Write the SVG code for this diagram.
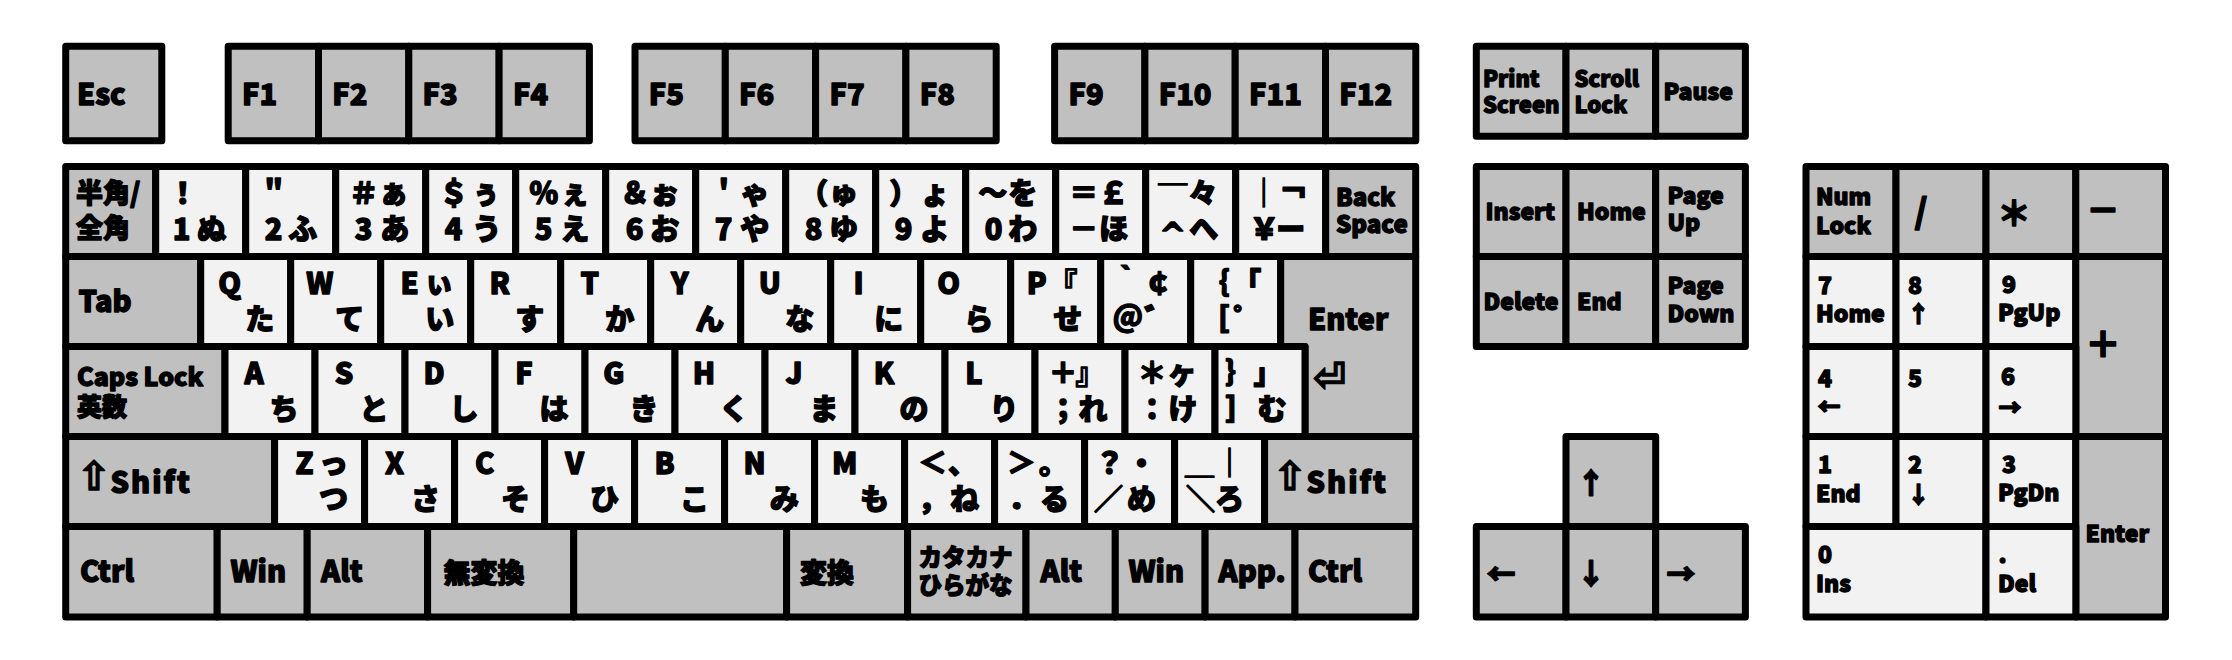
<svg xmlns="http://www.w3.org/2000/svg" width="2232" height="660" viewBox="0 0 2232 660">
<style>
.g{fill:#c0c0c0;stroke:#000;stroke-width:7;stroke-linejoin:round}
.w{fill:#f2f2f2;stroke:#000;stroke-width:7;stroke-linejoin:round}
text{font-family:"Noto Sans CJK JP","Noto Sans",sans-serif;font-weight:900;fill:#000;stroke:#000;stroke-width:1.3px;stroke-linejoin:round}
.l{font-size:29px}
.k{font-size:27px}
.m{font-size:24px}
.s{font-size:23px}
.t{font-size:22px}
.x{font-size:34px}
.c{text-anchor:middle}
.sym{font-family:"DejaVu Sans",sans-serif;font-weight:700}
.sh{letter-spacing:2px}
</style>
<rect width="2232" height="660" fill="#fff"/>
<g id="function-row">
<g id="k-esc"><rect class="g" x="65.7" y="46.3" width="96.1" height="94.4"/><text class="l" x="77" y="105">Esc</text></g>
<g id="k-f1"><rect class="g" x="228.2" y="46.3" width="90.3" height="94.4"/><text class="l" x="242" y="105">F1</text></g>
<g id="k-f2"><rect class="g" x="318.5" y="46.3" width="90.3" height="94.4"/><text class="l" x="332.3" y="105">F2</text></g>
<g id="k-f3"><rect class="g" x="408.8" y="46.3" width="90.3" height="94.4"/><text class="l" x="422.6" y="105">F3</text></g>
<g id="k-f4"><rect class="g" x="499.1" y="46.3" width="90.3" height="94.4"/><text class="l" x="512.9" y="105">F4</text></g>
<g id="k-f5"><rect class="g" x="635" y="46.3" width="90.3" height="94.4"/><text class="l" x="648.8" y="105">F5</text></g>
<g id="k-f6"><rect class="g" x="725.3" y="46.3" width="90.3" height="94.4"/><text class="l" x="739.1" y="105">F6</text></g>
<g id="k-f7"><rect class="g" x="815.6" y="46.3" width="90.3" height="94.4"/><text class="l" x="829.4" y="105">F7</text></g>
<g id="k-f8"><rect class="g" x="905.9" y="46.3" width="90.3" height="94.4"/><text class="l" x="919.7" y="105">F8</text></g>
<g id="k-f9"><rect class="g" x="1054.6" y="46.3" width="90.3" height="94.4"/><text class="l" x="1068.4" y="105">F9</text></g>
<g id="k-f10"><rect class="g" x="1144.9" y="46.3" width="90.3" height="94.4"/><text class="l" x="1158.7" y="105">F10</text></g>
<g id="k-f11"><rect class="g" x="1235.2" y="46.3" width="90.3" height="94.4"/><text class="l" x="1249" y="105">F11</text></g>
<g id="k-f12"><rect class="g" x="1325.5" y="46.3" width="90.3" height="94.4"/><text class="l" x="1339.3" y="105">F12</text></g>
</g>
<g id="row2">
<g id="k-hankaku"><rect class="g" x="65.7" y="166.5" width="90" height="90"/><text class="k"><tspan x="76" y="203">半角/</tspan><tspan x="76" y="237.5">全角</tspan></text></g>
<g id="k-1"><rect class="w" x="155.7" y="166.5" width="90" height="90"/><text class="l c"><tspan x="182.7" y="203.5">！</tspan><tspan x="181.7" y="239.5">1</tspan><tspan x="211.7" y="239.5">ぬ</tspan></text></g>
<g id="k-2"><rect class="w" x="245.7" y="166.5" width="90" height="90"/><text class="l c"><tspan x="273.7" y="203.5">＂</tspan><tspan x="273.7" y="239.5">2</tspan><tspan x="302.7" y="239.5">ふ</tspan></text></g>
<g id="k-3"><rect class="w" x="335.7" y="166.5" width="90" height="90"/><text class="l c"><tspan x="363.7" y="203.5">＃</tspan><tspan x="393.7" y="203.5">ぁ</tspan><tspan x="363.7" y="239.5">3</tspan><tspan x="394.7" y="239.5">あ</tspan></text></g>
<g id="k-4"><rect class="w" x="425.7" y="166.5" width="90" height="90"/><text class="l c"><tspan x="453.7" y="203.5">＄</tspan><tspan x="485.7" y="203.5">ぅ</tspan><tspan x="453.7" y="239.5">4</tspan><tspan x="486.7" y="239.5">う</tspan></text></g>
<g id="k-5"><rect class="w" x="515.7" y="166.5" width="90" height="90"/><text class="l c"><tspan x="543.7" y="203.5">％</tspan><tspan x="574.7" y="203.5">ぇ</tspan><tspan x="543.7" y="239.5">5</tspan><tspan x="574.7" y="239.5">え</tspan></text></g>
<g id="k-6"><rect class="w" x="605.7" y="166.5" width="90" height="90"/><text class="l c"><tspan x="634.7" y="203.5">＆</tspan><tspan x="664.7" y="203.5">ぉ</tspan><tspan x="634.7" y="239.5">6</tspan><tspan x="664.7" y="239.5">お</tspan></text></g>
<g id="k-7"><rect class="w" x="695.7" y="166.5" width="90" height="90"/><text class="l c"><tspan x="723.7" y="203.5">＇</tspan><tspan x="754.7" y="203.5">ゃ</tspan><tspan x="723.7" y="239.5">7</tspan><tspan x="754.7" y="239.5">や</tspan></text></g>
<g id="k-8"><rect class="w" x="785.7" y="166.5" width="90" height="90"/><text class="l c"><tspan x="813.7" y="203.5">（</tspan><tspan x="843.7" y="203.5">ゅ</tspan><tspan x="813.7" y="239.5">8</tspan><tspan x="843.7" y="239.5">ゆ</tspan></text></g>
<g id="k-9"><rect class="w" x="875.7" y="166.5" width="90" height="90"/><text class="l c"><tspan x="903.7" y="203.5">）</tspan><tspan x="934.7" y="203.5">ょ</tspan><tspan x="903.7" y="239.5">9</tspan><tspan x="934.7" y="239.5">よ</tspan></text></g>
<g id="k-0"><rect class="w" x="965.7" y="166.5" width="90" height="90"/><text class="l c"><tspan x="992.7" y="203.5">〜</tspan><tspan x="1022.7" y="203.5">を</tspan><tspan x="993.7" y="239.5">0</tspan><tspan x="1022.7" y="239.5">わ</tspan></text></g>
<g id="k-minus"><rect class="w" x="1055.7" y="166.5" width="90" height="90"/><text class="l c"><tspan x="1083.7" y="203.5">＝</tspan><tspan x="1113.7" y="203.5">￡</tspan><tspan x="1083.7" y="239.5">－</tspan><tspan x="1113.7" y="239.5">ほ</tspan></text></g>
<g id="k-caret"><rect class="w" x="1145.7" y="166.5" width="90" height="90"/><text class="l c"><tspan x="1172.7" y="209.5">￣</tspan><tspan x="1202.7" y="203.5">々</tspan><tspan class="sym" font-size="32" x="1172.7" y="246">^</tspan><tspan x="1203.7" y="239.5">へ</tspan></text></g>
<g id="k-yen"><rect class="w" x="1235.7" y="166.5" width="90" height="90"/><text class="l c"><tspan x="1263.7" y="203.5">｜</tspan><tspan x="1293.7" y="203.5">￢</tspan><tspan x="1264.2" y="239.5">￥</tspan><tspan x="1290.7" y="239.5">ー</tspan></text></g>
<g id="k-bs"><rect class="g" x="1325.7" y="166.5" width="90" height="90"/><text class="m"><tspan x="1336" y="206">Back</tspan><tspan x="1336" y="233">Space</tspan></text></g>
</g>
<g id="row3">
<g id="k-tab"><rect class="g" x="65.7" y="256.5" width="135" height="90"/><text class="l" x="78.5" y="312">Tab</text></g>
<g id="k-q"><rect class="w" x="200.7" y="256.5" width="90" height="90"/><text class="l c"><tspan x="229.7" y="293.5">Q</tspan><tspan x="259.7" y="330">た</tspan></text></g>
<g id="k-w"><rect class="w" x="290.7" y="256.5" width="90" height="90"/><text class="l c"><tspan x="319.7" y="293.5">W</tspan><tspan x="349.7" y="330">て</tspan></text></g>
<g id="k-e"><rect class="w" x="380.7" y="256.5" width="90" height="90"/><text class="l c"><tspan x="409.7" y="293.5">E</tspan><tspan x="438.7" y="293.5">ぃ</tspan><tspan x="439.7" y="330">い</tspan></text></g>
<g id="k-r"><rect class="w" x="470.7" y="256.5" width="90" height="90"/><text class="l c"><tspan x="499.7" y="293.5">R</tspan><tspan x="529.7" y="330">す</tspan></text></g>
<g id="k-t"><rect class="w" x="560.7" y="256.5" width="90" height="90"/><text class="l c"><tspan x="589.7" y="293.5">T</tspan><tspan x="619.7" y="330">か</tspan></text></g>
<g id="k-y"><rect class="w" x="650.7" y="256.5" width="90" height="90"/><text class="l c"><tspan x="679.7" y="293.5">Y</tspan><tspan x="709.7" y="330">ん</tspan></text></g>
<g id="k-u"><rect class="w" x="740.7" y="256.5" width="90" height="90"/><text class="l c"><tspan x="769.7" y="293.5">U</tspan><tspan x="799.7" y="330">な</tspan></text></g>
<g id="k-i"><rect class="w" x="830.7" y="256.5" width="90" height="90"/><text class="l c"><tspan x="858.7" y="293.5">I</tspan><tspan x="888.7" y="330">に</tspan></text></g>
<g id="k-o"><rect class="w" x="920.7" y="256.5" width="90" height="90"/><text class="l c"><tspan x="948.7" y="293.5">O</tspan><tspan x="978.7" y="330">ら</tspan></text></g>
<g id="k-p"><rect class="w" x="1010.7" y="256.5" width="90" height="90"/><text class="l c"><tspan x="1036.7" y="293.5">P</tspan><tspan x="1062.7" y="293.5">『</tspan><tspan x="1067.7" y="330">せ</tspan></text></g>
<g id="k-at"><rect class="w" x="1100.7" y="256.5" width="90" height="90"/><text class="l c"><tspan x="1126.7" y="293.5">｀</tspan><tspan x="1158.7" y="293.5">￠</tspan><tspan x="1127.7" y="330">＠</tspan><tspan x="1158.7" y="330">゛</tspan></text></g>
<g id="k-lbracket"><rect class="w" x="1190.7" y="256.5" width="90" height="90"/><text class="l c"><tspan x="1214.7" y="293.5">｛</tspan><tspan x="1246.7" y="293.5">「</tspan><tspan x="1214.7" y="330">［</tspan><tspan x="1247.7" y="330">゜</tspan></text></g>
<g id="k-enter"><polygon class="g" points="1280.7,256.5 1415.7,256.5 1415.7,436.5 1305,436.5 1305,346.5 1280.7,346.5"/><text class="l"><tspan x="1308" y="330">Enter</tspan><tspan class="sym" x="1313" y="391" font-size="40">⏎</tspan></text></g>
</g>
<g id="row4">
<g id="k-caps"><rect class="g" x="65.7" y="346.5" width="159.3" height="90"/><text font-size="25"><tspan x="77" y="386">Caps Lock</tspan><tspan x="77" y="415.5">英数</tspan></text></g>
<g id="k-a"><rect class="w" x="225" y="346.5" width="90" height="90"/><text class="l c"><tspan x="254" y="383.5">A</tspan><tspan x="284" y="420">ち</tspan></text></g>
<g id="k-s"><rect class="w" x="315" y="346.5" width="90" height="90"/><text class="l c"><tspan x="344" y="383.5">S</tspan><tspan x="374" y="420">と</tspan></text></g>
<g id="k-d"><rect class="w" x="405" y="346.5" width="90" height="90"/><text class="l c"><tspan x="434" y="383.5">D</tspan><tspan x="464" y="420">し</tspan></text></g>
<g id="k-f"><rect class="w" x="495" y="346.5" width="90" height="90"/><text class="l c"><tspan x="524" y="383.5">F</tspan><tspan x="554" y="420">は</tspan></text></g>
<g id="k-g"><rect class="w" x="585" y="346.5" width="90" height="90"/><text class="l c"><tspan x="614" y="383.5">G</tspan><tspan x="644" y="420">き</tspan></text></g>
<g id="k-h"><rect class="w" x="675" y="346.5" width="90" height="90"/><text class="l c"><tspan x="704" y="383.5">H</tspan><tspan x="734" y="420">く</tspan></text></g>
<g id="k-j"><rect class="w" x="765" y="346.5" width="90" height="90"/><text class="l c"><tspan x="794" y="383.5">J</tspan><tspan x="824" y="420">ま</tspan></text></g>
<g id="k-k"><rect class="w" x="855" y="346.5" width="90" height="90"/><text class="l c"><tspan x="884" y="383.5">K</tspan><tspan x="914" y="420">の</tspan></text></g>
<g id="k-l"><rect class="w" x="945" y="346.5" width="90" height="90"/><text class="l c"><tspan x="974" y="383.5">L</tspan><tspan x="1004" y="420">り</tspan></text></g>
<g id="k-semicolon"><rect class="w" x="1035" y="346.5" width="90" height="90"/><text class="l c"><tspan x="1063" y="383.5">＋</tspan><tspan x="1090" y="383.5">』</tspan><tspan x="1063" y="420">；</tspan><tspan x="1093" y="420">れ</tspan></text></g>
<g id="k-colon"><rect class="w" x="1125" y="346.5" width="90" height="90"/><text class="l c"><tspan x="1152" y="383.5">＊</tspan><tspan x="1182" y="383.5">ヶ</tspan><tspan x="1152" y="420">：</tspan><tspan x="1183" y="420">け</tspan></text></g>
<g id="k-rbracket"><rect class="w" x="1215" y="346.5" width="90" height="90"/><text class="l c"><tspan x="1240" y="383.5">｝</tspan><tspan x="1268" y="383.5">」</tspan><tspan x="1240" y="420">］</tspan><tspan x="1272" y="420">む</tspan></text></g>
</g>
<g id="row5">
<g id="k-lshift"><rect class="g" x="65.7" y="436.5" width="208.9" height="90"/><text class="l"><tspan class="sym" font-size="40" x="77" y="490">⇧</tspan><tspan class="sh" y="492.5">Shift</tspan></text></g>
<g id="k-z"><rect class="w" x="274.6" y="436.5" width="90" height="90"/><text class="l c"><tspan x="304.6" y="473.5">Z</tspan><tspan x="333.6" y="473.5">っ</tspan><tspan x="333.6" y="510">つ</tspan></text></g>
<g id="k-x"><rect class="w" x="364.6" y="436.5" width="90" height="90"/><text class="l c"><tspan x="394.6" y="473.5">X</tspan><tspan x="425.6" y="510">さ</tspan></text></g>
<g id="k-c"><rect class="w" x="454.6" y="436.5" width="90" height="90"/><text class="l c"><tspan x="484.6" y="473.5">C</tspan><tspan x="515.6" y="510">そ</tspan></text></g>
<g id="k-v"><rect class="w" x="544.6" y="436.5" width="90" height="90"/><text class="l c"><tspan x="574.6" y="473.5">V</tspan><tspan x="604.6" y="510">ひ</tspan></text></g>
<g id="k-b"><rect class="w" x="634.6" y="436.5" width="90" height="90"/><text class="l c"><tspan x="664.6" y="473.5">B</tspan><tspan x="694.6" y="510">こ</tspan></text></g>
<g id="k-n"><rect class="w" x="724.6" y="436.5" width="90" height="90"/><text class="l c"><tspan x="754.6" y="473.5">N</tspan><tspan x="784.6" y="510">み</tspan></text></g>
<g id="k-m"><rect class="w" x="814.6" y="436.5" width="90" height="90"/><text class="l c"><tspan x="844.6" y="473.5">M</tspan><tspan x="874.6" y="510">も</tspan></text></g>
<g id="k-comma"><rect class="w" x="904.6" y="436.5" width="90" height="90"/><text class="l c"><tspan x="932.6" y="473.5">＜</tspan><tspan x="962.6" y="473.5">、</tspan><tspan x="932.6" y="510">，</tspan><tspan x="964.6" y="510">ね</tspan></text></g>
<g id="k-period"><rect class="w" x="994.6" y="436.5" width="90" height="90"/><text class="l c"><tspan x="1021.6" y="473.5">＞</tspan><tspan x="1053.6" y="473.5">。</tspan><tspan x="1022.6" y="510">．</tspan><tspan x="1054.6" y="510">る</tspan></text></g>
<g id="k-slash"><rect class="w" x="1084.6" y="436.5" width="90" height="90"/><text class="l c"><tspan x="1109.6" y="473.5">？</tspan><tspan x="1141.6" y="473.5">・</tspan><tspan x="1108.6" y="510">／</tspan><tspan x="1141.6" y="510">め</tspan></text></g>
<g id="k-backslash"><rect class="w" x="1174.6" y="436.5" width="90" height="90"/><text class="l c"><tspan x="1199.6" y="473.5">＿</tspan><tspan x="1229.6" y="473.5">｜</tspan><tspan x="1200.6" y="510">＼</tspan><tspan x="1229.6" y="510">ろ</tspan></text></g>
<g id="k-rshift"><rect class="g" x="1264.6" y="436.5" width="151.1" height="90"/><text class="l"><tspan class="sym" font-size="40" x="1273" y="490">⇧</tspan><tspan class="sh" y="492.5">Shift</tspan></text></g>
</g>
<g id="row6">
<g id="k-lctrl"><rect class="g" x="65.7" y="526.5" width="151.5" height="90.5"/><text class="l" x="80" y="582">Ctrl</text></g>
<g id="k-lwin"><rect class="g" x="217.2" y="526.5" width="90" height="90.5"/><text class="l" x="230.5" y="582">Win</text></g>
<g id="k-lalt"><rect class="g" x="307.2" y="526.5" width="120.4" height="90.5"/><text class="l" x="321" y="582">Alt</text></g>
<g id="k-muhenkan"><rect class="g" x="427.6" y="526.5" width="146.1" height="90.5"/><text class="k" x="443.5" y="583">無変換</text></g>
<g id="k-space"><rect class="g" x="573.7" y="526.5" width="212.9" height="90.5"/></g>
<g id="k-henkan"><rect class="g" x="786.6" y="526.5" width="121" height="90.5"/><text class="k" x="800" y="583">変換</text></g>
<g id="k-kana"><rect class="g" x="907.6" y="526.5" width="118.4" height="90.5"/><text font-size="23.5"><tspan x="918.5" y="566">カタカナ</tspan><tspan x="918.5" y="594">ひらがな</tspan></text></g>
<g id="k-ralt"><rect class="g" x="1026" y="526.5" width="89.3" height="90.5"/><text class="l" x="1040.5" y="582">Alt</text></g>
<g id="k-rwin"><rect class="g" x="1115.3" y="526.5" width="89.8" height="90.5"/><text class="l" x="1128.5" y="582">Win</text></g>
<g id="k-app"><rect class="g" x="1205.1" y="526.5" width="89.9" height="90.5"/><text class="l" x="1218.5" y="582">App.</text></g>
<g id="k-rctrl"><rect class="g" x="1295" y="526.5" width="120.7" height="90.5"/><text class="l" x="1308" y="582">Ctrl</text></g>
</g>
<g id="nav">
<g id="k-prtsc"><rect class="g" x="1476.3" y="46.3" width="89.7" height="90"/><text class="t"><tspan x="1483" y="87">Print</tspan><tspan x="1483" y="113">Screen</tspan></text></g>
<g id="k-scrlk"><rect class="g" x="1566" y="46.3" width="89.7" height="90"/><text class="t"><tspan x="1574.5" y="87">Scroll</tspan><tspan x="1574.5" y="113">Lock</tspan></text></g>
<g id="k-pause"><rect class="g" x="1655.7" y="46.3" width="89.7" height="90"/><text class="s" x="1663.5" y="100">Pause</text></g>
<g id="k-ins"><rect class="g" x="1476.3" y="166.5" width="89.7" height="90"/><text class="s" x="1485.5" y="220">Insert</text></g>
<g id="k-home"><rect class="g" x="1566" y="166.5" width="89.7" height="90"/><text class="s" x="1577" y="220">Home</text></g>
<g id="k-pgup"><rect class="g" x="1655.7" y="166.5" width="89.7" height="90"/><text class="s"><tspan x="1667.5" y="204">Page</tspan><tspan x="1667.5" y="231">Up</tspan></text></g>
<g id="k-del"><rect class="g" x="1476.3" y="256.5" width="89.7" height="90"/><text class="s" x="1483.5" y="310">Delete</text></g>
<g id="k-end"><rect class="g" x="1566" y="256.5" width="89.7" height="90"/><text class="s" x="1577" y="310">End</text></g>
<g id="k-pgdn"><rect class="g" x="1655.7" y="256.5" width="89.7" height="90"/><text class="s"><tspan x="1667.5" y="294">Page</tspan><tspan x="1667.5" y="322">Down</tspan></text></g>
<g id="k-up"><rect class="g" x="1566" y="436.5" width="89.7" height="90"/><text class="l c" x="1591" y="494">↑</text></g>
<g id="k-left"><rect class="g" x="1476.3" y="526.5" width="89.7" height="90.5"/><text class="l c" x="1501" y="585">←</text></g>
<g id="k-down"><rect class="g" x="1566" y="526.5" width="89.7" height="90.5"/><text class="l c" x="1591" y="585">↓</text></g>
<g id="k-right"><rect class="g" x="1655.7" y="526.5" width="89.7" height="90.5"/><text class="l c" x="1681" y="585">→</text></g>
</g>
<g id="numpad">
<g id="k-numlock"><rect class="g" x="1806" y="166.5" width="90" height="90"/><text class="s"><tspan x="1816" y="205">Num</tspan><tspan x="1816" y="234">Lock</tspan></text></g>
<g id="k-ndiv"><rect class="g" x="1896" y="166.5" width="90" height="90"/><text class="x c" x="1921" y="224">/</text></g>
<g id="k-nmul"><rect class="g" x="1986" y="166.5" width="89.8" height="90"/><text class="x c" x="2014" y="226">＊</text></g>
<g id="k-nsub"><rect class="g" x="2075.8" y="166.5" width="89.7" height="90"/><text class="x c" x="2103" y="223">－</text></g>
<g id="k-n7"><rect class="w" x="1806" y="256.5" width="90" height="90"/><text class="s"><tspan x="1818" y="293.5">7</tspan><tspan x="1816" y="321.5">Home</tspan></text></g>
<g id="k-n8"><rect class="w" x="1896" y="256.5" width="90" height="90"/><text class="s"><tspan x="1908" y="293.5">8</tspan><tspan class="c" x="1918.5" y="322">↑</tspan></text></g>
<g id="k-n9"><rect class="w" x="1986" y="256.5" width="89.8" height="90"/><text class="s"><tspan x="2002" y="293">9</tspan><tspan x="1998" y="321">PgUp</tspan></text></g>
<g id="k-nadd"><rect class="g" x="2075.8" y="256.5" width="89.7" height="180"/><text class="c" font-size="36" x="2103" y="357.5">＋</text></g>
<g id="k-n4"><rect class="w" x="1806" y="346.5" width="90" height="90"/><text class="s"><tspan x="1818" y="386.5">4</tspan><tspan class="c" x="1829" y="415">←</tspan></text></g>
<g id="k-n5"><rect class="w" x="1896" y="346.5" width="90" height="90"/><text class="s" x="1908" y="386.5">5</text></g>
<g id="k-n6"><rect class="w" x="1986" y="346.5" width="89.8" height="90"/><text class="s"><tspan x="2001" y="385">6</tspan><tspan class="c" x="2010" y="416">→</tspan></text></g>
<g id="k-n1"><rect class="w" x="1806" y="436.5" width="90" height="90"/><text class="s"><tspan x="1818" y="473.3">1</tspan><tspan x="1816" y="501.5">End</tspan></text></g>
<g id="k-n2"><rect class="w" x="1896" y="436.5" width="90" height="90"/><text class="s"><tspan x="1908" y="473.3">2</tspan><tspan class="c" x="1918.5" y="502.5">↓</tspan></text></g>
<g id="k-n3"><rect class="w" x="1986" y="436.5" width="89.8" height="90"/><text class="s"><tspan x="2002" y="472.7">3</tspan><tspan x="1998" y="501">PgDn</tspan></text></g>
<g id="k-nenter"><rect class="g" x="2075.8" y="436.5" width="89.7" height="180.5"/><text class="s" x="2085.5" y="541.5">Enter</text></g>
<g id="k-n0"><rect class="w" x="1806" y="526.5" width="179.9" height="90.5"/><text class="s"><tspan x="1818" y="563.3">0</tspan><tspan x="1816" y="591.5">Ins</tspan></text></g>
<g id="k-ndot"><rect class="w" x="1986" y="526.5" width="89.8" height="90.5"/><text class="s"><tspan x="1998.5" y="563">.</tspan><tspan x="1998" y="591.5">Del</tspan></text></g>
</g>
</svg>
